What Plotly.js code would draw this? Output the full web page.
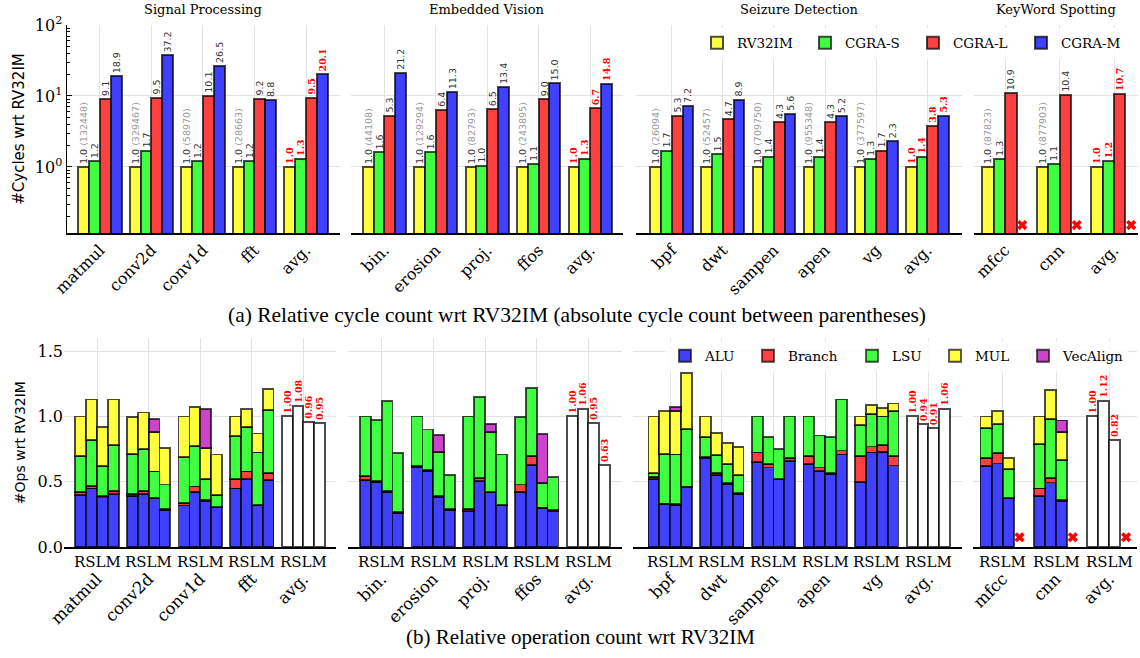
<!DOCTYPE html>
<html><head><meta charset="utf-8">
<script src="https://cdn.plot.ly/plotly-3.0.1.min.js"></script>
<style>html,body{margin:0;padding:0;background:#fff}#chart{width:1140px;height:658px}</style>
</head><body><div id="chart"></div><script>
// ---------------- DATA ----------------
const panelTitles = ['Signal Processing', 'Embedded Vision', 'Seizure Detection', 'KeyWord Spotting'];
const configNames = ['RV32IM', 'CGRA-S', 'CGRA-L', 'CGRA-M'];
const opNames = ['ALU', 'Branch', 'LSU', 'MUL', 'VecAlign'];
const subLabel = 'RSLM';

const sigCats = ['matmul', 'conv2d', 'conv1d', 'fft', 'avg.'];
const visCats = ['bin.', 'erosion', 'proj.', 'ffos', 'avg.'];
const szCats  = ['bpf', 'dwt', 'sampen', 'apen', 'vg', 'avg.'];
const kwsCats = ['mfcc', 'cnn', 'avg.'];

// (a) relative cycles (last entry = avg.)
const sigRV = [1.0, 1.0, 1.0, 1.0, 1.0];
const sigS  = [1.2, 1.7, 1.2, 1.2, 1.3];
const sigL  = [9.1, 9.5, 10.1, 9.2, 9.5];
const sigM  = [18.9, 37.2, 26.5, 8.8, 20.1];
const sigAbs = [132448, 329467, 58970, 28663];

const visRV = [1.0, 1.0, 1.0, 1.0, 1.0];
const visS  = [1.6, 1.6, 1.04, 1.1, 1.3];
const visL  = [5.3, 6.4, 6.5, 9.0, 6.7];
const visM  = [21.2, 11.3, 13.4, 15.0, 14.8];
const visAbs = [44108, 129294, 82793, 243895];

const szRV = [1.0, 1.0, 1.0, 1.0, 1.0, 1.0];
const szS  = [1.7, 1.5, 1.4, 1.4, 1.3, 1.4];
const szL  = [5.3, 4.7, 4.3, 4.3, 1.7, 3.8];
const szM  = [7.2, 8.9, 5.6, 5.2, 2.3, 5.3];
const szAbs = [26094, 52457, 709750, 955348, 377597];

const kwsRV = [1.0, 1.0, 1.0];
const kwsS  = [1.3, 1.1, 1.2];
const kwsL  = [10.9, 10.4, 10.7];
const kwsM  = [null, null, null];
const kwsAbs = [87823, 877903];

// (b) relative op counts, per benchmark in order R,S,L,M
const sigALU = [0.40,0.45,0.38,0.41, 0.39,0.41,0.375,0.285, 0.32,0.42,0.355,0.305, 0.45,0.52,0.32,0.515];
const sigBr  = [0.02,0.02,0.01,0.02, 0.015,0.02,0.005,0.005, 0.02,0.045,0.005,0.005, 0.07,0.06,0.005,0.05];
const sigLSU = [0.28,0.35,0.23,0.35, 0.31,0.32,0.20,0.19, 0.35,0.31,0.16,0.09, 0.33,0.34,0.40,0.485];
const sigMUL = [0.30,0.31,0.30,0.35, 0.28,0.28,0.30,0.28, 0.31,0.30,0.24,0.31, 0.15,0.14,0.145,0.16];
const sigVec = [null,null,null,null, null,null,0.10,null, null,null,0.30,null, null,null,null,null];
const sigAvg = [1.00, 1.08, 0.96, 0.95];

const visALU = [0.515,0.50,0.425,0.265, 0.615,0.585,0.385,0.285, 0.28,0.505,0.42,0.32, 0.42,0.63,0.30,0.28];
const visBr  = [0.03,0.005,0.005,0.005, 0.005,0.005,0.005,0.005, 0.01,0.025,0.005,0.005, 0.06,0.07,0.005,0.005];
const visLSU = [0.455,0.47,0.69,0.45, 0.38,0.31,0.34,0.26, 0.71,0.62,0.455,0.385, 0.515,0.515,0.185,0.255];
const visMUL = [null,null,null,null, null,null,null,null, null,null,null,null, null,null,null,null];
const visVec = [null,null,null,null, null,null,0.13,null, null,null,0.065,null, null,null,0.375,null];
const visAvg = [1.00, 1.06, 0.95, 0.63];

const szALU = [0.52,0.33,0.325,0.46, 0.68,0.55,0.485,0.41, 0.65,0.61,0.52,0.66, 0.635,0.585,0.56,0.71, 0.50,0.725,0.73,0.625];
const szBr  = [0.015,0.005,0.005,0.005, 0.01,0.015,0.005,0.005, 0.075,0.025,0.005,0.02, 0.06,0.025,0.005,0.03, 0.195,0.045,0.05,0.07];
const szLSU = [0.035,0.38,0.38,0.44, 0.155,0.14,0.145,0.14, 0.275,0.21,0.225,0.32, 0.305,0.245,0.28,0.39, 0.24,0.25,0.22,0.345];
const szMUL = [0.43,0.33,0.33,0.425, 0.155,0.17,0.165,0.21, null,null,null,null, null,null,null,null, 0.065,0.07,0.065,0.06];
const szVec = [null,null,0.03,null, null,null,null,null, null,null,null,null, null,null,null,null, null,null,null,null];
const szAvg = [1.00, 0.94, 0.91, 1.06];

const kwsALU = [0.62,0.64,0.375,null, 0.39,0.495,0.355,null];
const kwsBr  = [0.065,0.08,0.005,null, 0.06,0.035,0.005,null];
const kwsLSU = [0.225,0.22,0.22,null, 0.34,0.45,0.31,null];
const kwsMUL = [0.09,0.10,0.085,null, 0.21,0.22,0.21,null];
const kwsVec = [null,null,null,null, null,null,0.09,null];
const kwsAvg = [1.00, 1.12, 0.82, null];

// ---------------- STYLE ----------------
const W = 1140, H = 658;
const SERIF = 'DejaVu Serif', SANS = 'DejaVu Sans', CAPTION = 'Liberation Serif';
const cfgColors = ['#ffff40', '#40ff40', '#ff4040', '#4040ff'];
const opColors = ['#4040ff', '#ff4040', '#40ff40', '#ffff40', '#cc44cc'];
const opLegendWidths = [38, 59, 38, 43, 60];
const EDGE = 'rgba(0,0,0,0.7)';
const GRID = '#e2e2e2';
const BW = 0.21;
const topDomX = [[67,340],[351,623],[636,962],[974,1138]];
const topRanges = [[-0.64,4.66],[-0.65,4.64],[-0.70,5.68],[-0.57,2.44]];
const botDomX = [[64,336],[348,622],[633,962],[973,1137]];
const botRanges = [[-0.64,4.63],[-0.65,4.65],[-0.72,5.65],[-0.56,2.52]];
const topY = [25, 233], botY = [338, 547.3];
const fx = p => p / W, fy = p => 1 - p / H;

const topPanels = [
  {cats: sigCats, vals: [sigRV, sigS, sigL, sigM], abs: sigAbs},
  {cats: visCats, vals: [visRV, visS, visL, visM], abs: visAbs},
  {cats: szCats,  vals: [szRV, szS, szL, szM], abs: szAbs},
  {cats: kwsCats, vals: [kwsRV, kwsS, kwsL, kwsM], abs: kwsAbs},
];
const botPanels = [
  {cats: sigCats, ops: [sigALU, sigBr, sigLSU, sigMUL, sigVec], avg: sigAvg},
  {cats: visCats, ops: [visALU, visBr, visLSU, visMUL, visVec], avg: visAvg},
  {cats: szCats,  ops: [szALU, szBr, szLSU, szMUL, szVec], avg: szAvg},
  {cats: kwsCats, ops: [kwsALU, kwsBr, kwsLSU, kwsMUL, kwsVec], avg: kwsAvg},
];

const traces = [];
const layout = {
  width: W, height: H, margin: {l: 0, r: 0, t: 0, b: 0},
  paper_bgcolor: 'white', plot_bgcolor: 'white',
  barmode: 'stack', showlegend: true,
  font: {family: SERIF, size: 15, color: '#000'},
  legend: {orientation: 'h', x: fx(697), y: fy(43), xanchor: 'left', yanchor: 'middle',
    bgcolor: 'rgba(255,255,255,0.85)', font: {family: SERIF, size: 13.5},
    entrywidth: 63, entrywidthmode: 'pixels', traceorder: 'normal'},
  legend2: {orientation: 'h', x: fx(665), y: fy(356), xanchor: 'left', yanchor: 'middle',
    bgcolor: 'rgba(255,255,255,0.85)', font: {family: SERIF, size: 13.5}, traceorder: 'normal'},
  annotations: []
};

// ---------- top row ----------
topPanels.forEach((p, i) => {
  const n = i + 1, xa = 'x' + n, ya = 'y' + n;
  const last = p.cats.length - 1;
  p.vals.forEach((vals, c) => {
    const text = vals.map((v, g) => {
      if (v === null) return '';
      const s = v.toFixed(1);
      if (g === last) return '<b>' + s + '</b>';
      if (c === 0) return s + ' <span style="color:#9a9a9a">(' + p.abs[g] + ')</span>';
      return s;
    });
    traces.push({
      type: 'bar', xaxis: xa, yaxis: ya,
      x: p.cats.map((_, g) => g + (c - 1.5) * BW), y: vals, width: BW,
      name: configNames[c], legend: 'legend', showlegend: i === 0,
      marker: {color: cfgColors[c], line: {color: EDGE, width: 2}},
      text: text, textposition: 'outside', textangle: -90, cliponaxis: false, constraintext: 'none',
      textfont: {size: 9.5, family: vals.map((_, g) => g === last ? SERIF : SANS),
                 color: vals.map((_, g) => g === last ? '#ff0000' : '#333333')},
      hoverinfo: 'skip'
    });
  });
  // missing CGRA-M marks
  const miss = p.vals[3].map((v, g) => v === null ? g : null).filter(g => g !== null);
  if (miss.length) traces.push({
    type: 'scatter', mode: 'markers', xaxis: xa, yaxis: ya, showlegend: false,
    x: miss.map(g => g + 1.5 * BW), y: miss.map(() => 0.152),
    marker: {symbol: 'x', color: '#ff0000', size: 9, line: {width: 0}}, cliponaxis: false, hoverinfo: 'skip'
  });
  layout['xaxis' + n] = {
    domain: [fx(topDomX[i][0]), fx(topDomX[i][1])], range: topRanges[i], anchor: ya,
    tickmode: 'array', tickvals: p.cats.map((_, g) => g), ticktext: p.cats, tickangle: -45,
    tickfont: {family: SERIF, size: 16}, showgrid: true, gridcolor: GRID, gridwidth: 1,
    showline: true, linecolor: '#000', linewidth: 1.5, zeroline: false, ticks: ''
  };
  layout['yaxis' + n] = {
    domain: [fy(topY[1]), fy(topY[0])], type: 'log', range: [-0.93, 2.0], anchor: xa,
    tickmode: 'array', tickvals: [1, 10, 100], ticktext: ['10<sup>0</sup>', '10<sup>1</sup>', '10<sup>2</sup>'],
    showticklabels: i === 0, tickfont: {family: SERIF, size: 16},
    showgrid: true, gridcolor: GRID, zeroline: false,
    showline: i === 0, linecolor: '#000', linewidth: 1.5,
    ticks: i === 0 ? 'inside' : '', ticklen: 5, tickcolor: '#000',
    minor: i === 0 ? {ticks: 'inside', ticklen: 3, tickcolor: '#000', dtick: 'D1', showgrid: false} : undefined,
    title: i === 0 ? {text: '#Cycles wrt RV32IM', font: {family: SANS, size: 15}, standoff: 6} : undefined
  };
  layout.annotations.push({xref: xa + ' domain', x: 0.5, yref: 'paper', y: fy(10), showarrow: false,
    text: panelTitles[i], font: {family: SERIF, size: 13}, xanchor: 'center', yanchor: 'middle'});
});

// ---------- bottom row ----------
botPanels.forEach((p, i) => {
  const n = i + 5, xa = 'x' + n, ya = 'y' + n;
  const nb = p.cats.length - 1; // benchmarks without avg
  const pos = [];
  for (let g = 0; g < nb; g++) for (let c = 0; c < 4; c++) pos.push(g + (c - 1.5) * BW);
  p.ops.forEach((vals, k) => {
    traces.push({
      type: 'bar', xaxis: xa, yaxis: ya, x: pos, y: vals, width: BW,
      name: opNames[k], legend: 'legend2', showlegend: i === 0, legendwidth: opLegendWidths[k],
      marker: {color: opColors[k], line: {color: EDGE, width: 1.8}}, hoverinfo: 'skip'
    });
  });
  traces.push({
    type: 'bar', xaxis: xa, yaxis: ya, showlegend: false,
    x: [0, 1, 2, 3].map(c => nb + (c - 1.5) * BW), y: p.avg, width: BW,
    marker: {color: '#ffffff', line: {color: EDGE, width: 2}},
    text: p.avg.map(v => v === null ? '' : '<b>' + v.toFixed(2) + '</b>'),
    textposition: 'outside', textangle: -90, cliponaxis: false, constraintext: 'none',
    textfont: {family: SERIF, size: 9.5, color: '#ff0000'}, hoverinfo: 'skip'
  });
  const missX = [];
  for (let g = 0; g < nb; g++) if (p.ops[0][g * 4 + 3] === null) missX.push(g + 1.5 * BW);
  if (p.avg[3] === null) missX.push(nb + 1.5 * BW);
  if (missX.length) traces.push({
    type: 'scatter', mode: 'markers', xaxis: xa, yaxis: ya, showlegend: false,
    x: missX, y: missX.map(() => 0.077),
    marker: {symbol: 'x', color: '#ff0000', size: 9, line: {width: 0}}, cliponaxis: false, hoverinfo: 'skip'
  });
  layout['xaxis' + n] = {
    domain: [fx(botDomX[i][0]), fx(botDomX[i][1])], range: botRanges[i], anchor: ya,
    tickmode: 'array', tickvals: p.cats.map((_, g) => g), ticktext: p.cats, tickangle: -45,
    tickfont: {family: SERIF, size: 16.5}, showgrid: true, gridcolor: GRID,
    showline: true, linecolor: '#000', linewidth: 1.5, zeroline: false,
    ticks: 'outside', ticklen: 14, tickcolor: 'rgba(0,0,0,0)'
  };
  layout['yaxis' + n] = {
    domain: [fy(botY[1]), fy(botY[0])], range: [0, 1.6], anchor: xa,
    tickmode: 'array', tickvals: [0, 0.5, 1.0, 1.5], ticktext: ['0.0', '0.5', '1.0', '1.5'],
    showticklabels: i === 0, tickfont: {family: SERIF, size: 16},
    showgrid: true, gridcolor: GRID, zeroline: false, showline: false, ticks: '',
    title: i === 0 ? {text: '#Ops wrt RV32IM', font: {family: SANS, size: 14}, standoff: 8} : undefined
  };
  p.cats.forEach((_, g) => layout.annotations.push({
    xref: xa, x: g, yref: ya + ' domain', y: 0, yanchor: 'top', yshift: -4, showarrow: false,
    text: subLabel, font: {family: SERIF, size: 15}
  }));
});

layout.annotations.push({xref: 'paper', x: fx(577), yref: 'paper', y: fy(315), showarrow: false,
  text: '(a) Relative cycle count wrt RV32IM (absolute cycle count between parentheses)',
  font: {family: CAPTION, size: 21.5}, xanchor: 'center', yanchor: 'middle'});
layout.annotations.push({xref: 'paper', x: fx(580), yref: 'paper', y: fy(637), showarrow: false,
  text: '(b) Relative operation count wrt RV32IM',
  font: {family: CAPTION, size: 21}, xanchor: 'center', yanchor: 'middle'});

Plotly.newPlot('chart', traces, layout, {staticPlot: true, displayModeBar: false});
</script></body></html>
